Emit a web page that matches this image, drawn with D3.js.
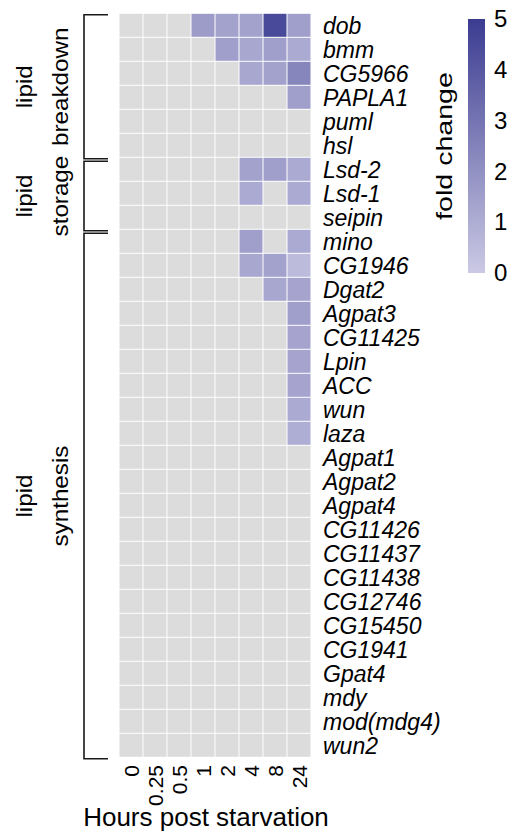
<!DOCTYPE html>
<html><head><meta charset="utf-8">
<script src="https://cdn.jsdelivr.net/npm/d3@7"></script>
<style>
body{margin:0;background:#fff}
text{font-family:"Liberation Sans",Arial,Helvetica,sans-serif;fill:#000}
</style>
</head><body>
<svg id="chart" width="528" height="833"></svg>
<script>
// ---- data ----
const hours = ["0","0.25","0.5","1","2","4","8","24"];
const genes = ["dob","bmm","CG5966","PAPLA1","puml","hsl",
  "Lsd-2","Lsd-1","seipin",
  "mino","CG1946","Dgat2","Agpat3","CG11425","Lpin","ACC","wun","laza",
  "Agpat1","Agpat2","Agpat4","CG11426","CG11437","CG11438","CG12746",
  "CG15450","CG1941","Gpat4","mdy","mod(mdg4)","wun2"];
// fold change per gene at each time point (null = not significant, grey)
const N = null;
const foldChange = [
  [N,N,N,1.6,1.4,1.4,4.5,1.5],   // dob
  [N,N,N,N,1.5,1.2,1.5,1.1],     // bmm
  [N,N,N,N,N,1.2,1.4,2.4],       // CG5966
  [N,N,N,N,N,N,N,1.5],           // PAPLA1
  [N,N,N,N,N,N,N,N],             // puml
  [N,N,N,N,N,N,N,N],             // hsl
  [N,N,N,N,N,1.4,1.5,1.1],       // Lsd-2
  [N,N,N,N,N,1.1,N,1.1],         // Lsd-1
  [N,N,N,N,N,N,N,N],             // seipin
  [N,N,N,N,N,1.5,N,1.1],         // mino
  [N,N,N,N,N,1.2,1.4,0.5],       // CG1946
  [N,N,N,N,N,N,1.2,1.3],         // Dgat2
  [N,N,N,N,N,N,N,1.5],           // Agpat3
  [N,N,N,N,N,N,N,1.3],           // CG11425
  [N,N,N,N,N,N,N,1.3],           // Lpin
  [N,N,N,N,N,N,N,1.3],           // ACC
  [N,N,N,N,N,N,N,1.1],           // wun
  [N,N,N,N,N,N,N,1.0],           // laza
  [N,N,N,N,N,N,N,N],[N,N,N,N,N,N,N,N],[N,N,N,N,N,N,N,N],
  [N,N,N,N,N,N,N,N],[N,N,N,N,N,N,N,N],[N,N,N,N,N,N,N,N],
  [N,N,N,N,N,N,N,N],[N,N,N,N,N,N,N,N],[N,N,N,N,N,N,N,N],
  [N,N,N,N,N,N,N,N],[N,N,N,N,N,N,N,N],[N,N,N,N,N,N,N,N],
  [N,N,N,N,N,N,N,N]
];
const groupNames = [["lipid","breakdown"],["lipid","storage"],["lipid","synthesis"]];
const groupSizes = [6,3,22];
const legendTicks = [0,1,2,3,4,5];
const xTitle = "Hours post starvation";
const legendTitle = "fold change";

// ---- drawing ----
const svg = d3.select("#chart");
const x = d3.scaleBand().domain(hours).range([119,311]);
const y = d3.scaleBand().domain(genes).range([13.3,757.3]);
const color = d3.scaleLinear().domain([0,5]).range(["#cbc9e4","#3b3c91"]).interpolate(d3.interpolateRgb);
const grey = "#dcdcdc";

const cells = [];
genes.forEach((g,i)=>hours.forEach((h,j)=>cells.push({g,h,v:foldChange[i][j]})));
svg.append("g").selectAll("rect").data(cells).join("rect")
  .attr("x",d=>x(d.h)+0.5).attr("y",d=>y(d.g)+0.5)
  .attr("width",x.bandwidth()-1).attr("height",y.bandwidth()-1)
  .attr("fill",d=>d.v==null?grey:color(d.v));

// gene labels
svg.append("g").selectAll("text").data(genes).join("text")
  .attr("x",323).attr("y",d=>y(d)+y.bandwidth()/2)
  .attr("dy","0.36em")
  .style("font-size","23px").style("font-style","italic")
  .text(d=>d);

// x tick labels
svg.append("g").selectAll("text").data(hours).join("text")
  .attr("transform",d=>`translate(${x(d)+x.bandwidth()/2},765) rotate(-90)`)
  .attr("text-anchor","end").attr("dy","0.36em")
  .style("font-size","21px").text(d=>d);

svg.append("text").attr("x",206).attr("y",826).attr("text-anchor","middle")
  .style("font-size","26px").text(xTitle);

// group brackets
let start = 0;
groupSizes.forEach((n,k)=>{
  const end = start+n;
  const top = start===0 ? y(genes[0])+1.5 : y(genes[start])+4;
  const bot = y(genes[end-1])+y.bandwidth()+1.5;
  svg.append("path")
    .attr("d",`M108,${top}H84V${bot}H108`)
    .attr("fill","none").attr("stroke","#1a1a1a").attr("stroke-width",1.6);
  const cy = (top+bot)/2;
  const t = svg.append("g").attr("transform",`translate(0,${cy}) rotate(-90) scale(1.1,1)`);
  t.selectAll("text").data(groupNames[k]).join("text")
    .attr("x",0).attr("y",(d,i)=>i===0?32:68)
    .attr("text-anchor","middle").style("font-size","22px").text(d=>d);
  start = end;
});

// legend
const ly = d3.scaleLinear().domain([0,5]).range([273,19]);
const defs = svg.append("defs");
const grad = defs.append("linearGradient").attr("id","lg")
  .attr("x1","0").attr("y1","1").attr("x2","0").attr("y2","0");
grad.selectAll("stop").data(legendTicks).join("stop")
  .attr("offset",d=>d/5).attr("stop-color",d=>color(d));
svg.append("rect").attr("x",468).attr("y",ly(5)).attr("width",17)
  .attr("height",ly(0)-ly(5)).attr("fill","url(#lg)");
const ax = svg.append("g").attr("transform","translate(490,0)")
  .call(d3.axisRight(ly).tickValues(legendTicks).tickSize(0).tickPadding(4).tickFormat(d3.format("d")));
ax.select(".domain").remove();
ax.selectAll("text").style("font-size","24px").style("font-family","'Liberation Sans',Arial,sans-serif").attr("fill","#000");

svg.append("text").attr("transform","translate(452,146) rotate(-90) scale(1.3,1)")
  .attr("text-anchor","middle").style("font-size","22px").text(legendTitle);
</script>
</body></html>
